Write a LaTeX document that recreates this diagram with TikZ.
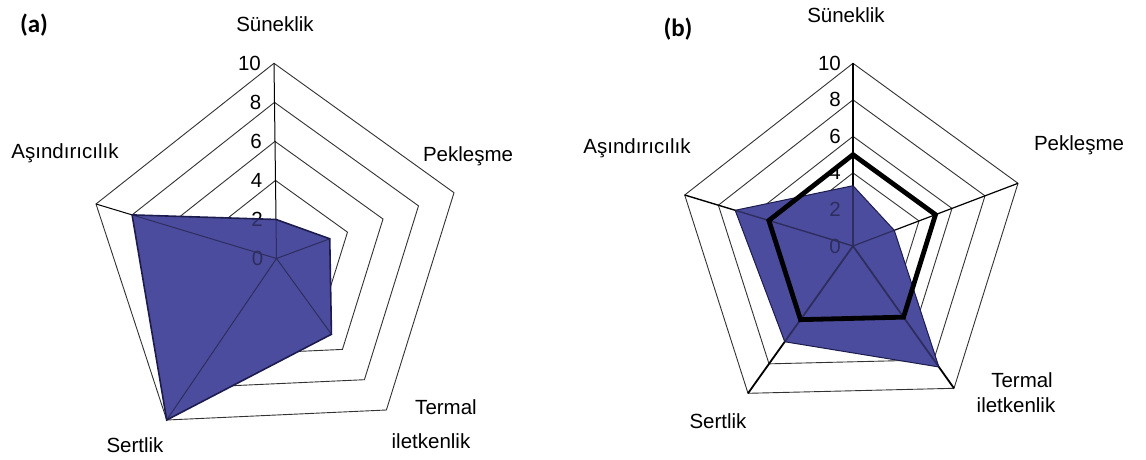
\documentclass[tikz,border=0pt]{standalone}
\usepackage{fontspec}
\setmainfont{Liberation Sans}
\newfontfamily\panelfont{Carlito}
\usetikzlibrary{calc}
\definecolor{fillblue}{RGB}{76,76,158}
\definecolor{edgenavy}{RGB}{28,28,78}
\definecolor{gridgray}{RGB}{50,50,50}
\begin{document}
\begin{tikzpicture}[x=1pt,y=-1pt,
  grid/.style={draw=gridgray,line width=0.9pt,line join=miter},
  spoke/.style={draw=black,line width=1pt},
  bspoke/.style={draw=black,line width=1.8pt},
  axislbl/.style={font=\fontsize{20.5}{24}\selectfont,anchor=base,inner sep=0pt},
  numlbl/.style={font=\fontsize{20.5}{24}\selectfont,anchor=east,inner sep=0pt},
  panellbl/.style={font=\panelfont\bfseries\fontsize{25}{28}\selectfont,inner sep=0pt},
  area/.style={fill=fillblue},
  areatint/.style={fill=fillblue,fill opacity=0.6},
  areaedge/.style={draw=edgenavy,line width=1.6pt,line join=miter},
  thickser/.style={draw=black,line width=4.8pt,line join=miter}]
\useasboundingbox (0,0) rectangle (1146,460);
\fill[white] (0,0) rectangle (1146,460);

% ---------------- chart (a) ----------------
\coordinate (aC) at (276.5,258.5);
\coordinate (aV1) at (274,63.3);
\coordinate (aV2) at (454,192.7);
\coordinate (aV3) at (386.4,410);
\coordinate (aV4) at (166.7,420);
\coordinate (aV5) at (96,204);
\foreach \f in {0.2,0.4,0.6,0.8,1}{
  \draw[grid] ($(aC)!\f!(aV1)$) -- ($(aC)!\f!(aV2)$) -- ($(aC)!\f!(aV3)$)
    -- ($(aC)!\f!(aV4)$) -- ($(aC)!\f!(aV5)$) -- cycle;}
\coordinate (aD1) at ($(aC)!0.2!(aV1)$);
\coordinate (aD2) at ($(aC)!0.3!(aV2)$);
\coordinate (aD3) at ($(aC)!0.5!(aV3)$);
\coordinate (aD4) at ($(aC)!1!(aV4)$);
\coordinate (aD5) at ($(aC)!0.8!(aV5)$);
\fill[area] (aD1) -- (aD2) -- (aD3) -- (aD4) -- (aD5) -- cycle;
\draw[spoke] (aC) -- (aV1);
\draw[spoke] (aC) -- (aD2);
\draw[spoke] (aC) -- (aD3);
\draw[spoke] (aC) -- (aV4);
\draw[spoke] (aC) -- (aV5);
\foreach \f/\t in {0/0,0.2/2,0.4/4,0.6/6,0.8/8,1/10}{
  \node[numlbl] (an\t) at ($(aC)!\f!(aV1)+(-13,0)$) {\t};}
\fill[areatint] (aD1) -- (aD2) -- (aD3) -- (aD4) -- (aD5) -- cycle;
\draw[areaedge] (aD1) -- (aD2) -- (aD3) -- (aD4) -- (aD5) -- cycle;

\node[panellbl] (apanel) at (34,25) {(a)};
\node[axislbl] (as) at (275,31.7) {Süneklik};
\node[axislbl] (aa) at (65,158) {Aşındırıcılık};
\node[axislbl] (ap) at (468,161.4) {Pekleşme};
\node[axislbl] (at) at (446,414.7) {Termal};
\node[axislbl] (ai) at (431,448) {iletkenlik};
\node[axislbl] (ase) at (135,452) {Sertlik};

% ---------------- chart (b) ----------------
\coordinate (bC) at (853,246);
\coordinate (bV1) at (853,63.3);
\coordinate (bV2) at (1018,183.3);
\coordinate (bV3) at (954,388.3);
\coordinate (bV4) at (748,393.3);
\coordinate (bV5) at (684.7,195);
\foreach \f in {0.2,0.4,0.6,0.8,1}{
  \draw[grid] ($(bC)!\f!(bV1)$) -- ($(bC)!\f!(bV2)$) -- ($(bC)!\f!(bV3)$)
    -- ($(bC)!\f!(bV4)$) -- ($(bC)!\f!(bV5)$) -- cycle;}
\coordinate (bD1) at ($(bC)!0.33!(bV1)$);
\coordinate (bD2) at ($(bC)!0.25!(bV2)$);
\coordinate (bD3) at ($(bC)!0.85!(bV3)$);
\coordinate (bD4) at ($(bC)!0.65!(bV4)$);
\coordinate (bD5) at ($(bC)!0.7!(bV5)$);
\fill[area] (bD1) -- (bD2) -- (bD3) -- (bD4) -- (bD5) -- cycle;
\draw[bspoke,line width=2.2pt] (bC) -- (bV1);
\draw[bspoke,line width=1.2pt] (bC) -- (bV2);
\draw[bspoke] (bC) -- (bV3);
\draw[bspoke] (bC) -- (bV4);
\draw[bspoke,line width=1.4pt] (bC) -- (bV5);
\foreach \f/\t in {0/0,0.2/2,0.4/4,0.6/6,0.8/8,1/10}{
  \node[numlbl] (bn\t) at ($(bC)!\f!(bV1)+(-12,0)$) {\t};}
\fill[areatint] (bD1) -- (bD2) -- (bD3) -- (bD4) -- (bD5) -- cycle;
\draw[areaedge,line width=1pt] (bD1) -- (bD2) -- (bD3) -- (bD4) -- (bD5) -- cycle;
\draw[thickser] ($(bC)!0.5!(bV1)$) -- ($(bC)!0.5!(bV2)$) -- ($(bC)!0.5!(bV3)$)
  -- ($(bC)!0.5!(bV4)$) -- ($(bC)!0.5!(bV5)$) -- cycle;

\node[panellbl] (bpanel) at (678,29) {(b)};
\node[axislbl] (bs) at (846,22.5) {Süneklik};
\node[axislbl] (ba) at (637,153) {Aşındırıcılık};
\node[axislbl] (bp) at (1079,150) {Pekleşme};
\node[axislbl] (bt) at (1022,387) {Termal};
\node[axislbl] (bi) at (1016,412) {iletkenlik};
\node[axislbl] (bse) at (718,428) {Sertlik};
\end{tikzpicture}
\end{document}
